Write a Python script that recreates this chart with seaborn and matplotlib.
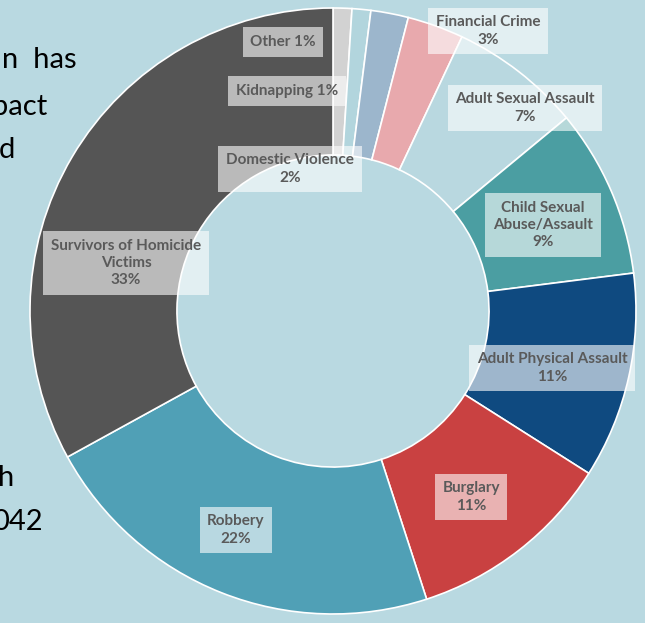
import numpy as np
import matplotlib
matplotlib.use('Agg')
import matplotlib.pyplot as plt
import seaborn as sns

# data (clockwise from 12 o'clock)
categories = ['Other', 'Kidnapping', 'Domestic Violence', 'Financial Crime',
              'Adult Sexual Assault', 'Child Sexual\nAbuse/Assault',
              'Adult Physical Assault', 'Burglary', 'Robbery',
              'Survivors of Homicide\nVictims']
shares = [1, 1, 2, 3, 7, 9, 11, 11, 22, 33]
label_text = ['Other 1%', 'Kidnapping 1%', 'Domestic Violence\n2%', 'Financial Crime\n3%',
              'Adult Sexual Assault\n7%', 'Child Sexual\nAbuse/Assault\n9%',
              'Adult Physical Assault\n11%', 'Burglary\n11%', 'Robbery\n22%',
              'Survivors of Homicide\nVictims\n33%']
colors = ['#d2d2d2', '#b2d5dd', '#9cb6cc', '#e8a9ad', '#b9d8e0', '#4b9ea2',
          '#0f4a80', '#c94141', '#50a0b6', '#555555']

# cropped slide text on the left
side_text = ['n  has', 'pact', 'd', 'h', '042']

# layout (pixel coords, y down)
W, H = 645, 623
bg = '#b9d9e1'
cx, cy, R = 333, 311, 303
hole = 0.515
label_pos = [(283, 42), (287, 91), (290, 169), (488, 31), (525, 108),
             (543, 225), (552, 368), (471, 497), (236, 530), (126, 263)]
side_pos = [(77, 60), (47, 107), (15, 150), (14, 478), (43, 522)]

sns.set_theme(style='white')
plt.rcParams['font.family'] = ['Lato', 'DejaVu Sans']

fig = plt.figure(figsize=(W / 100, H / 100), dpi=100, facecolor=bg)
ax = fig.add_axes([0, 0, 1, 1])
ax.set_facecolor(bg)

ax.pie(shares, colors=colors, startangle=90, counterclock=False,
       center=(cx, H - cy), radius=R,
       wedgeprops=dict(width=R * (1 - hole), edgecolor='white', linewidth=1.2))

for txt, (x, y) in zip(label_text, label_pos):
    ax.text(x, H - y, txt, ha='center', va='center', fontsize=11, fontweight='bold',
            color='#5a5a5a', linespacing=1.3,
            bbox=dict(boxstyle='square,pad=0.5', facecolor='white', alpha=0.6,
                      edgecolor='none'))

for txt, (x, y) in zip(side_text, side_pos):
    ax.text(x, H - y, txt, ha='right', va='center', fontsize=21, color='black')

ax.set_xlim(0, W)
ax.set_ylim(0, H)
ax.set_aspect('equal')
ax.axis('off')

fig.savefig('out.png', dpi=100, facecolor=bg)
